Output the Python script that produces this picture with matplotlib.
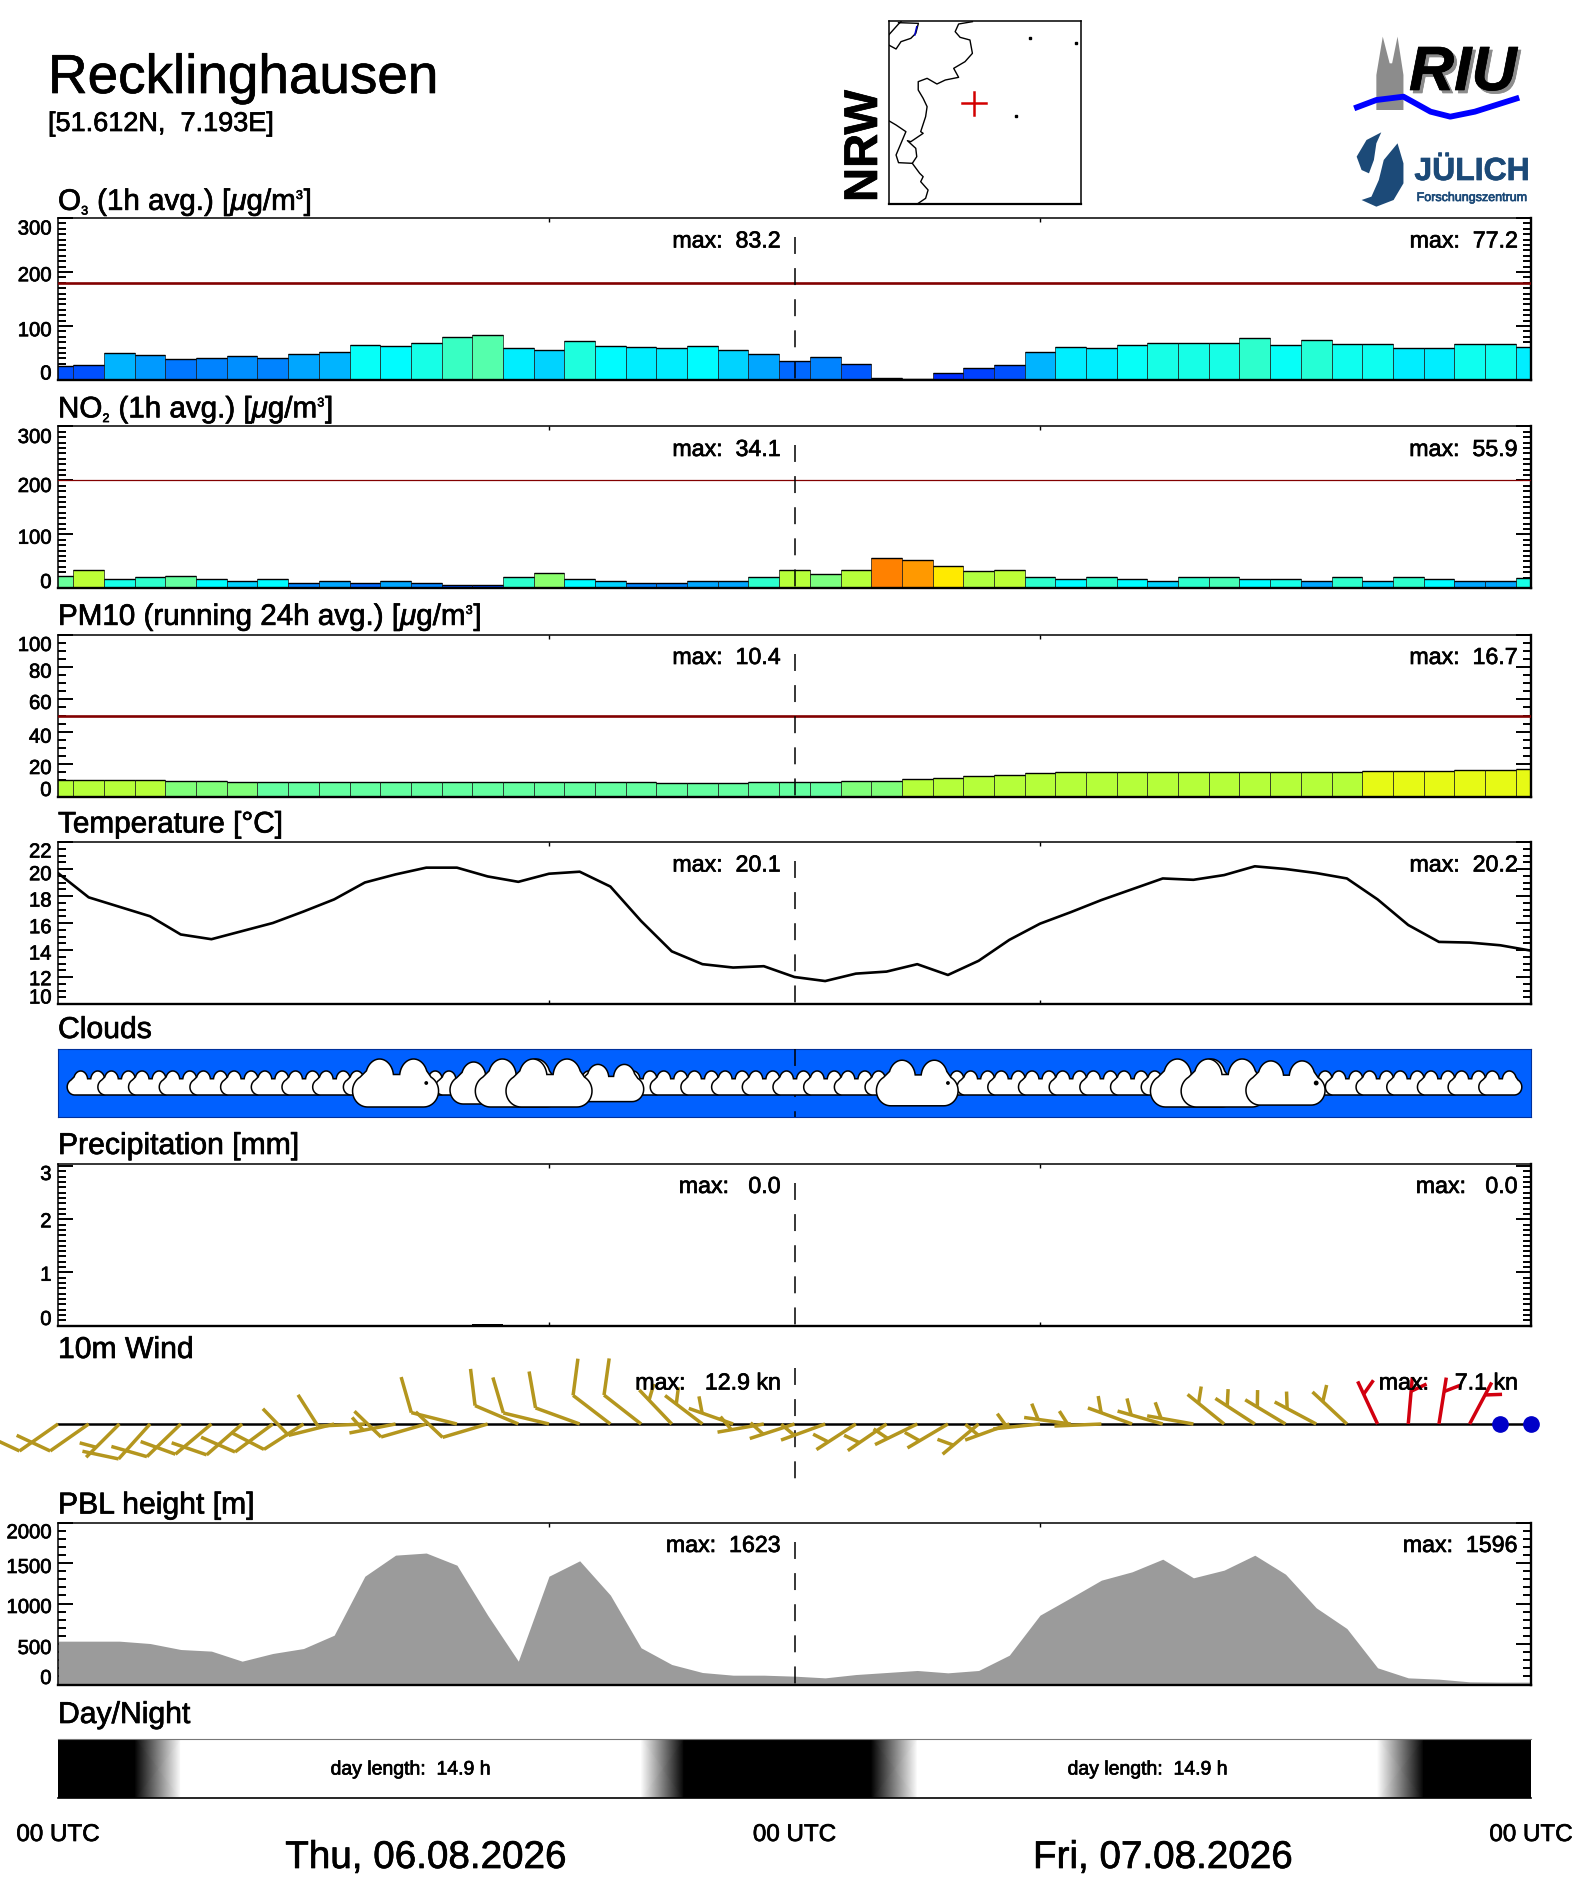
import numpy as np
import matplotlib
matplotlib.use('Agg')
import matplotlib.pyplot as plt
import matplotlib._mathtext as mt
import matplotlib.patheffects as pe
from matplotlib.colors import LinearSegmentedColormap
from matplotlib.patches import Polygon

plt.rcParams['font.family'] = ['Liberation Sans', 'DejaVu Sans']
plt.rcParams['mathtext.fontset'] = 'custom'
plt.rcParams['mathtext.rm'] = 'Liberation Sans'
plt.rcParams['mathtext.it'] = 'Liberation Sans:italic'
plt.rcParams['mathtext.bf'] = 'Liberation Sans:bold'
plt.rcParams['lines.scale_dashes'] = False
mt.SHRINK_FACTOR = 0.42  # the scripts in the titles are tiny

W, H = 1572, 1889
X0, X1 = 58, 1531
PXH = (X1 - X0) / 48.0

hours = np.arange(49)

o3 = [26, 27.8, 49.5, 45.8, 38.3, 40.2, 43.9, 40.2, 47.6, 51.3, 64.3, 62.5, 68, 79.2, 83.2, 58.8, 55,
      71.7, 62.5, 60.6, 58.8, 62.5, 55, 47.6, 34.6, 42, 29, 3, 1.9, 12.4, 21.6, 27.2, 51.3, 60.6, 58.8,
      64.3, 68, 68, 68, 77.2, 64.3, 73.6, 66, 66, 58.8, 58.8, 66, 66, 60.6]
no2 = [24, 34.1, 18.5, 20.4, 23, 16.7, 14.8, 16.7, 11, 13, 9.3, 13, 11, 7.4, 6.8, 20.4, 28, 16.7, 14.8,
       11, 11, 13, 13, 20.4, 33.4, 26, 33.4, 55.9, 53, 41, 32.8, 34.1, 20.4, 16.7, 20.4, 16.7, 14.8,
       20.4, 22, 16.7, 18.5, 13, 20.4, 14.8, 20.4, 16.7, 13, 13, 19]
pm10 = [10.4, 10.4, 10, 10, 9.5, 9.5, 9, 8.9, 8.9, 8.9, 8.9, 8.9, 8.9, 8.9, 8.9, 8.9, 8.9, 8.9, 8.9,
        8.9, 8.3, 8.3, 8.3, 8.9, 8.9, 8.9, 9.5, 9.5, 10.5, 11.7, 12.5, 13.5, 14.3, 15, 15, 15, 15, 15,
        15, 15, 15, 15.3, 15.3, 15.6, 16, 16, 16.5, 16.5, 16.7]
temp = [19.7, 17.9, 17.2, 16.5, 15.15, 14.8, 15.4, 16.0, 16.85, 17.75, 19.0, 19.6, 20.1, 20.1, 19.45,
        19.05, 19.65, 19.8, 18.7, 16.15, 13.9, 12.95, 12.7, 12.8, 12.0, 11.7, 12.25, 12.4, 12.95, 12.15,
        13.2, 14.75, 15.95, 16.8, 17.7, 18.5, 19.3, 19.2, 19.55, 20.2, 20.0, 19.7, 19.3, 17.75, 15.85,
        14.6, 14.55, 14.35, 13.95]
precip = [0] * 14 + [0.02] + [0] * 34
pbl = [535, 535, 535, 506, 432, 412, 288, 383, 444, 609, 1337, 1597, 1623, 1473, 856, 288, 1337, 1527,
       1103, 453, 247, 148, 115, 115, 103, 82, 123, 148, 173, 144, 173, 362, 856, 1070, 1288, 1391,
       1547, 1317, 1412, 1596, 1362, 947, 691, 206, 82, 66, 33, 29, 29]
# staff direction on screen (deg, counter clockwise from east) and speed in knots
wind_dir = [215, 215, 225, 228, 224, 220, 221, 216.5, 212.7, 194, 182.5, 191, 196, 166, 196.5, 157,
            166.4, 160, 142.5, 142, 133.6, 142.7, 160.6, 190, 198, 200, 213, 214.5, 206, 210.6, 220,
            200, 186, 172, 182.5, 160, 164, 170, 141, 147, 149, 152, 137, 115, 85, 81, 62, 0, 0]
wind_kn = [10.2, 10.4, 9.5, 11, 10.5, 10.8, 10.5, 10.6, 10.3, 10.2, 10.1, 9.8, 10.4, 11.5, 11.2, 12, 11,
           11.8, 12.9, 12.9, 9.5, 9, 8, 7.5, 6.8, 6.5, 6.2, 6, 6.2, 6, 5.8, 6, 5.6, 5.5, 5.4, 5.8, 6,
           5.7, 6.5, 6.8, 7, 7.1, 6.4, 4.5, 4, 3.5, 3, 0, 0]
cloud_scale = [0] + [1] * 10 + [2, 1, 1, 1.75, 2, 2, 1, 1.55] + [1] * 9 + [1.9] + [1] * 8 + [2, 2, 1, 1.84] + [1] * 7 + [0]
rain_dot_hours = [12, 29, 41]
rain_dot_size = [3, 3, 6]
daylight_hours = [0, 2.5, 4, 19, 20.4, 26.5, 28, 43, 44.5, 48]
daylight_level = [0, 0, 1, 1, 0, 0, 1, 1, 0, 0]

max_labels = {'o3': ['max:  83.2', 'max:  77.2'], 'no2': ['max:  34.1', 'max:  55.9'],
              'pm10': ['max:  10.4', 'max:  16.7'], 'temp': ['max:  20.1', 'max:  20.2'],
              'precip': ['max:   0.0', 'max:   0.0'], 'pbl': ['max:  1623', 'max:  1596']}

# rainbow used for the bars, stops in O3 units
cmap_stops = [(0, (0, 0, 220)), (10, (0, 40, 255)), (20, (0, 60, 255)), (38, (0, 120, 255)), (48, (0, 170, 255)),
              (55, (0, 215, 255)), (62, (0, 255, 255)), (77, (50, 255, 200)), (85, (100, 255, 160)),
              (100, (130, 255, 120)), (122, (180, 255, 60)), (142, (232, 250, 20)), (148, (255, 240, 0)),
              (170, (255, 200, 0)), (198, (255, 150, 0)), (240, (255, 60, 0)), (300, (200, 0, 0))]
cmap = LinearSegmentedColormap.from_list('riu', [(a / 300.0, tuple(c / 255.0 for c in b)) for a, b in cmap_stops], N=128)

# pm10 colours come in steps
pm10_bins = [8.95, 9.6, 15.5]
pm10_levels = [85, 100, 122, 142]

fig = plt.figure(figsize=(W / 100.0, H / 100.0), dpi=100, facecolor='white')

px = fig.add_axes([0, 0, 1, 1], zorder=10)
px.set_xlim(0, W)
px.set_ylim(H, 0)
px.axis('off')


def panel(top, height):
    ax = fig.add_axes([X0 / W, 1 - (top + height) / H, (X1 - X0) / W, height / H])
    ax.set_xlim(0, 48)
    return ax


def style_axis(ax, ymax, major, minor, ymin=0):
    ax.set_ylim(ymin, ymax)
    ax.set_xticks([16, 32])
    ax.set_yticks(np.arange(ymin, ymax + 1e-6, major))
    ax.set_yticks(np.arange(ymin, ymax + 1e-6, minor), minor=True)
    ax.tick_params(axis='y', which='major', direction='in', left=True, right=True, length=10.8, width=1.4,
                   labelleft=False)
    ax.tick_params(axis='y', which='minor', direction='in', left=True, right=True, length=5.6, width=1.4)
    ax.tick_params(axis='x', direction='in', top=True, bottom=True, length=3, width=1, labelbottom=False)
    for s in ['top', 'left']:
        ax.spines[s].set_linewidth(1.1)
    for s in ['bottom', 'right']:
        ax.spines[s].set_linewidth(1.7)


def midline(ax, y_start, y_end):
    ax.plot([24, 24], [y_start, y_end], color='k', lw=1.1, linestyle=(0, (12.2, 10.2)), zorder=6, clip_on=False)


def add_text(top, title, baseline_gap, ticks, tick_offs, maxes, max_dy=23, title_size=21.7):
    px.text(X0, top - baseline_gap, title, fontsize=title_size, va='baseline', ha='left')
    for lab, off in zip(ticks, tick_offs):
        px.text(51.5, top + off + 1, lab, fontsize=14.6, ha='right', va='center')
    if maxes:
        px.text(780, top + max_dy, maxes[0], fontsize=16.7, ha='right', va='center')
        px.text(1517, top + max_dy, maxes[1], fontsize=16.7, ha='right', va='center')


def bars(ax, vals, levels, limit, limit_lw):
    vals = np.array(vals, dtype=float)
    ax.bar(hours, vals, width=1.0, color=cmap(np.array(levels) / 300.0), edgecolor='#1a1a1a', linewidth=0.5, zorder=2)
    ax.hlines(vals, hours - 0.5, hours + 0.5, color='k', lw=1.0, zorder=3)
    ax.axhline(limit, color='#820000', lw=limit_lw, zorder=4)


# ---- header ----
px.text(48, 93, 'Recklinghausen', fontsize=39.5, va='baseline', ha='left')
px.text(48, 131, '[51.612N,  7.193E]', fontsize=19.5, va='baseline', ha='left')

# map
mx = np.array([888.7, 1080.8])
map_ax = fig.add_axes([mx[0] / W, 1 - 204 / H, (mx[1] - mx[0]) / W, 183 / H])
map_ax.set_xlim(mx[0], mx[1])
map_ax.set_ylim(204, 21)
map_ax.set_xticks([])
map_ax.set_yticks([])
for s in map_ax.spines.values():
    s.set_linewidth(1.1)
map_ax.spines['bottom'].set_linewidth(1.6)
border_main = [(350, 65), (322, 72), (315, 95), (325, 112), (345, 120), (350, 160), (335, 185), (312, 205), (322, 232),
               (295, 240), (278, 252), (258, 235), (240, 245), (240, 270), (250, 295), (258, 320), (255, 350), (245, 395),
               (250, 400), (225, 425), (218, 422), (235, 445), (237, 470), (228, 490), (243, 520), (250, 530), (245, 545),
               (260, 570), (255, 595), (240, 610)]
border_south = [(180, 362), (195, 375), (215, 395), (205, 430), (195, 465), (200, 488), (228, 490)]
border_nw = [(240, 72), (235, 100), (225, 115), (205, 125), (195, 147), (180, 135)]
border_nw2 = [(180, 105), (200, 72), (205, 65)]
border_top = [(200, 68), (240, 70)]
for pts in [border_main, border_south, border_nw, border_nw2, border_top]:
    p = np.array(pts) / [2.03, 3.0] + [800, 0]
    map_ax.plot(p[:, 0], p[:, 1], color='k', lw=1.0)
p = np.array([(237, 80), (233, 105)]) / [2.03, 3.0] + [800, 0]
map_ax.plot(p[:, 0], p[:, 1], color='#0000c8', lw=1.1)
for q in [(467, 115), (560, 130), (438, 349)]:
    map_ax.plot(q[0] / 2.03 + 800, q[1] / 3.0, 's', color='k', ms=1.5)
map_ax.plot([961.5, 985.5], [103.3, 103.3], color='#d20000', lw=1.8)
map_ax.plot([973.5, 973.5], [92, 115], color='#d20000', lw=1.8)
px.text(865, 202, 'NRW', fontsize=34, fontweight='bold', rotation=90, ha='center', va='bottom')

# logos
wave = np.array([(1125, 325), (1170, 300), (1225, 290), (1280, 335), (1320, 350), (1370, 335), (1460, 293)]) / [2.03, 3.0] + [800, 0]
px.plot(wave[:, 0], wave[:, 1], color='#0000ff', lw=4.2, solid_capstyle='butt')
spires = np.array([(1170, 330), (1170, 225), (1183, 110), (1197, 190), (1202, 190), (1213, 110), (1225, 225), (1225, 330)]) / [2.03, 3.0] + [800, 0]
px.add_patch(Polygon(spires, closed=True, fc='#8c8c8c', ec='none'))
px.text(1412, 93, 'RIU', fontsize=45, fontweight='bold', style='italic', color='#8c8c8c', va='baseline')
px.text(1409, 90, 'RIU', fontsize=45, fontweight='bold', style='italic', color='k', va='baseline')
drop_a = np.array([(1180, 397), (1150, 420), (1130, 470), (1140, 510), (1155, 520), (1165, 480), (1170, 430)]) / [2.03, 3.0] + [800, 0]
drop_b = np.array([(1213, 430), (1225, 490), (1225, 550), (1205, 600), (1170, 620), (1140, 600), (1160, 590), (1175, 540), (1185, 480)]) / [2.03, 3.0] + [800, 0]
px.add_patch(Polygon(drop_a, closed=True, fc='#1c4a78', ec='none'))
px.add_patch(Polygon(drop_b, closed=True, fc='#1c4a78', ec='none'))
px.text(1472, 180, 'JÜLICH', fontsize=23, fontweight='bold', color='#1c4a78', ha='center', va='baseline')
px.text(1472, 201, 'Forschungszentrum', fontsize=9, color='#1c4a78', ha='center', va='baseline')

# ---- O3 ----
top = 218
ax = panel(top, 162)
style_axis(ax, 300, 100, 10)
bars(ax, o3, o3, 180, 1.9)
midline(ax, 300 - 19 * 300 / 162.0, 0)
add_text(top, r'O$_3$ (1h avg.) [$\mu$g/m$^3$]', 8, ['300', '200', '100', '0'], [10, 56.7, 111.7, 155], max_labels['o3'],
         title_size=21.3)

# ---- NO2 ----
top = 426.5
ax = panel(top, 162)
style_axis(ax, 300, 100, 10)
bars(ax, no2, np.array(no2) * 3.7, 200, 0.9)
midline(ax, 300 - 19 * 300 / 162.0, 0)
add_text(top, r'NO$_2$ (1h avg.) [$\mu$g/m$^3$]', 9, ['300', '200', '100', '0'], [10, 59, 110.7, 155], max_labels['no2'],
         title_size=21.3)

# ---- PM10 ----
top = 634.5
ax = panel(top, 162)
style_axis(ax, 100, 20, 5)
bars(ax, pm10, np.array(pm10_levels)[np.digitize(pm10, pm10_bins)], 50, 1.9)
midline(ax, 100 - 19 * 100 / 162.0, 0)
add_text(top, r'PM10 (running 24h avg.) [$\mu$g/m$^3$]', 9.5, ['100', '80', '60', '40', '20', '0'],
         [10, 36.7, 68, 101.7, 133, 155], max_labels['pm10'], title_size=21.3)

# ---- temperature ----
top = 842
ax = panel(top, 162)
style_axis(ax, 22, 2, 0.5, ymin=10)
ax.plot(hours, temp, color='k', lw=1.9, zorder=3)
midline(ax, 22 - 19 * 12 / 162.0, 10)
add_text(top, 'Temperature [°C]', 9.5, ['22', '20', '18', '16', '14', '12', '10'],
         [9, 31.7, 58, 84.7, 111, 136.7, 155], max_labels['temp'], title_size=21.4)

# ---- clouds ----
top = 1049
ax = panel(top, 68)
ax.set_ylim(-34, 34)
ax.set_facecolor('#0060ff')
ax.set_xticks([])
ax.set_yticks([])
for s in ax.spines.values():
    s.set_linewidth(0.8)
    s.set_color('#00309c')
midline(ax, 34, -34)
px.text(X0, top - 11, 'Clouds', fontsize=21.7, va='baseline', ha='left')


def arc(cx, cy, rx, ry, a0, a1, n=24):
    t = np.radians(np.linspace(a0, a1, n))
    return np.column_stack([cx + rx * np.cos(t), cy + ry * np.sin(t)])


cloud_outline = np.vstack([
    arc(14, -4, 7.5, 8, -90, 60),
    arc(9, 3, 7, 9, 20, 172),
    arc(-8, 3, 7, 9, 8, 160),
    arc(-14, -4, 7.5, 8, 120, 270),
])

order = sorted([h for h in hours if cloud_scale[h] > 0], key=lambda h: (cloud_scale[h] > 1.7, cloud_scale[h] > 1, h))
for i, h in enumerate(order):
    s = cloud_scale[h]
    shape = cloud_outline * s / [PXH, 1.0] + [h, 0]
    ax.add_patch(Polygon(shape, closed=True, fc='white', ec='k', lw=1.1, zorder=7 + i * 0.01))
ax.scatter(rain_dot_hours, [0] * len(rain_dot_hours), s=rain_dot_size, color='k', zorder=9)

# ---- precipitation ----
top = 1163.5
ax = panel(top, 162)
style_axis(ax, 3.05, 1, 0.1)
ax.bar(hours, precip, width=1.0, color='k', zorder=2)
midline(ax, 3.05 - 19 * 3.05 / 162.0, 0)
add_text(top, 'Precipitation [mm]', 9.5, ['3', '2', '1', '0'], [10, 57.3, 110.7, 155], max_labels['precip'])

# ---- wind ----
top = 1354
ax = panel(top, 130)
ax.set_ylim(-60, 70)
ax.axis('off')
ax.plot([0, 48], [0, 0], color='k', lw=1.8, zorder=1, clip_on=False)
ax.plot([24, 24], [56, -55], color='k', lw=1.1, linestyle=(0, (12.2, 10.2)), zorder=1)
STAFF, FULL, HALF = 47.0, 37.0, 17.0
for h, kn, ang in zip(hours, wind_kn, wind_dir):
    if kn == 0:
        ax.plot(h, 0, 'o', color='#0000c8', ms=11, clip_on=False, zorder=4)
        continue
    col = '#d2000f' if kn < 5 else '#b4961e'
    a = np.radians(ang)
    b = np.radians(ang - 60)
    ax.plot([h, h + STAFF * np.cos(a) / PXH], [0, STAFF * np.sin(a)], color=col, lw=2.5, clip_on=False, zorder=3,
            solid_capstyle='butt')
    if kn >= 10:
        start, blen = STAFF, FULL
    else:
        start, blen = STAFF * 0.7, HALF
    sx, sy = start * np.cos(a), start * np.sin(a)
    ax.plot([h + sx / PXH, h + (sx + blen * np.cos(b)) / PXH], [sy, sy + blen * np.sin(b)], color=col, lw=2.5,
            clip_on=False, zorder=3, solid_capstyle='butt')
px.text(X0, 1358, '10m Wind', fontsize=21.7, va='baseline', ha='left')
px.text(780, 1383, 'max:   12.9 kn', fontsize=16.7, ha='right', va='center')
px.text(1517, 1383, 'max:    7.1 kn', fontsize=16.7, ha='right', va='center')

# ---- PBL ----
top = 1522.5
ax = panel(top, 162)
style_axis(ax, 2000, 500, 100)
ax.fill_between(hours, pbl, 0, color='#9b9b9b', lw=0, zorder=2)
midline(ax, 2000 - 19 * 2000 / 162.0, 0)
add_text(top, 'PBL height [m]', 9, ['2000', '1500', '1000', '500', '0'], [9.3, 44, 84, 125, 155], max_labels['pbl'])

# ---- day/night ----
top = 1739
ax = panel(top, 59)
ax.set_ylim(0, 1)
lev = np.array(daylight_level, dtype=float)
ax.pcolormesh(daylight_hours, [0, 1], np.vstack([lev, lev]), shading='gouraud', cmap='gray', vmin=0, vmax=1)
ax.set_xticks([])
ax.set_yticks([])
ax.spines['left'].set_visible(False)
ax.spines['right'].set_visible(False)
ax.spines['top'].set_linewidth(0.8)
ax.spines['top'].set_color('#777777')
ax.spines['bottom'].set_linewidth(1.2)
px.text(X0, 1723, 'Day/Night', fontsize=21.7, va='baseline', ha='left')
px.text(411, 1770, 'day length:  14.9 h', fontsize=14, ha='center', va='center')
px.text(1148, 1770, 'day length:  14.9 h', fontsize=14, ha='center', va='center')

for h in [0, 24, 48]:
    px.text(X0 + h * PXH, 1835, '00 UTC', fontsize=17.4, ha='center', va='center')
px.text(426, 1858, 'Thu, 06.08.2026', fontsize=27.8, ha='center', va='center')
px.text(1163, 1858, 'Fri, 07.08.2026', fontsize=27.8, ha='center', va='center')

# the original type is a bit heavier than plain Liberation Sans
for t in px.texts:
    t.set_path_effects([pe.withStroke(linewidth=0.5, foreground=t.get_color())])

fig.savefig('out.png', dpi=100)
